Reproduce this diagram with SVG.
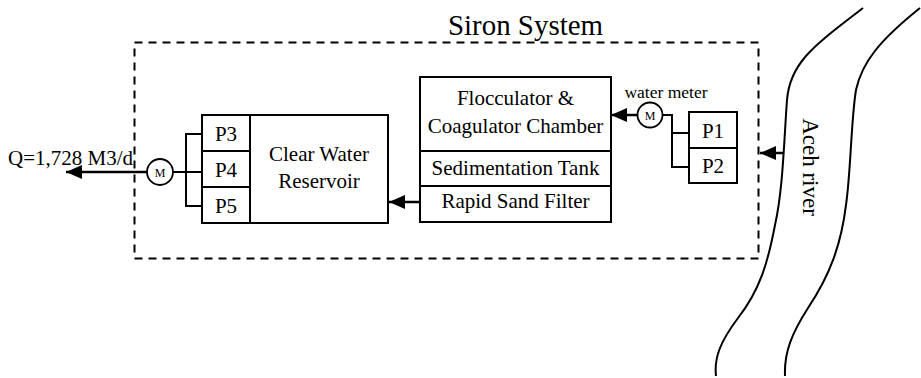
<svg xmlns="http://www.w3.org/2000/svg" width="921" height="378" viewBox="0 0 921 378">
<style>
  .box { fill: #fff; stroke: #000; stroke-width: 2; }
  .ln { fill: none; stroke: #000; stroke-width: 2; }
  .arr { fill: none; stroke: #000; stroke-width: 2.5; }
  .meter { fill: #fff; stroke: #000; stroke-width: 1.8; }
</style>
<defs>
  <marker id="ah" viewBox="0 0 16 14" refX="16" refY="7" markerWidth="16" markerHeight="14" markerUnits="userSpaceOnUse" orient="auto">
    <polygon points="0,0 16,7 0,14" fill="#000"/>
  </marker>
</defs>
<rect width="921" height="378" fill="#fff"/>

<g id="siron-system">
  <rect x="134.5" y="42.5" width="624" height="216" fill="none" stroke="#000" stroke-width="2" stroke-dasharray="8,6"/>
  <text x="525.5" y="35" font-family="Liberation Serif, serif" font-size="29" text-anchor="middle" textLength="155" lengthAdjust="spacingAndGlyphs">Siron System</text>
</g>

<g id="river">
  <path class="ln" d="M 863,8 C 815,45 790,62 787,100 C 784,140 783,190 775,225 C 768,262 760,290 738,318 C 720,342 714,358 716,376"/>
  <path class="ln" d="M 920,8 C 880,40 862,62 856,90 C 851,120 851,170 846,205 C 841,245 830,275 808,308 C 792,333 784,352 785,376"/>
  <text transform="translate(803,167) rotate(90)" x="0" y="0" font-family="Liberation Serif, serif" font-size="23" text-anchor="middle">Aceh river</text>
</g>

<g id="treatment">
  <rect class="box" x="420" y="77" width="191" height="145"/>
  <line class="ln" x1="420" y1="151" x2="611" y2="151"/>
  <line class="ln" x1="420" y1="186" x2="611" y2="186"/>
  <text x="515.5" y="105" font-family="Liberation Serif, serif" font-size="21" text-anchor="middle">Flocculator &amp;</text>
  <text x="515.5" y="133" font-family="Liberation Serif, serif" font-size="21" text-anchor="middle">Coagulator Chamber</text>
  <text x="515.5" y="175" font-family="Liberation Serif, serif" font-size="21" text-anchor="middle">Sedimentation Tank</text>
  <text x="515.5" y="208" font-family="Liberation Serif, serif" font-size="21" text-anchor="middle">Rapid Sand Filter</text>
</g>

<g id="reservoir">
  <rect class="box" x="250" y="115" width="138" height="108"/>
  <text x="319" y="161" font-family="Liberation Serif, serif" font-size="21" text-anchor="middle">Clear Water</text>
  <text x="319" y="188" font-family="Liberation Serif, serif" font-size="21" text-anchor="middle">Reservoir</text>
</g>

<g id="pumps-out">
  <rect class="box" x="202" y="115" width="48" height="36"/>
  <rect class="box" x="202" y="151" width="48" height="36"/>
  <rect class="box" x="202" y="187" width="48" height="36"/>
  <text x="226" y="141" font-family="Liberation Serif, serif" font-size="21" text-anchor="middle">P3</text>
  <text x="226" y="177" font-family="Liberation Serif, serif" font-size="21" text-anchor="middle">P4</text>
  <text x="226" y="213" font-family="Liberation Serif, serif" font-size="21" text-anchor="middle">P5</text>
</g>

<g id="pumps-in">
  <rect class="box" x="689" y="112" width="48" height="36"/>
  <rect class="box" x="689" y="148" width="48" height="35"/>
  <text x="713" y="138" font-family="Liberation Serif, serif" font-size="21" text-anchor="middle">P1</text>
  <text x="713" y="173" font-family="Liberation Serif, serif" font-size="21" text-anchor="middle">P2</text>
</g>

<g id="connectors">
  <line class="arr" x1="784" y1="153" x2="760" y2="153" marker-end="url(#ah)"/>
  <polyline class="ln" points="689,133 672,133"/>
  <polyline class="ln" points="689,167 672,167 672,115 662,115"/>
  <line class="arr" x1="638" y1="115" x2="611" y2="115" marker-end="url(#ah)"/>
  <line class="arr" x1="420" y1="202" x2="389" y2="202" marker-end="url(#ah)"/>
  <polyline class="ln" points="202,134 186,134 186,206 202,206"/>
  <line class="ln" x1="173" y1="172" x2="202" y2="172"/>
  <line class="arr" x1="147" y1="172" x2="66" y2="172" marker-end="url(#ah)"/>
  <text x="8" y="165" font-family="Liberation Serif, serif" font-size="21">Q=1,728 M3/d</text>
</g>

<g id="meter-in">
  <circle class="meter" cx="650" cy="115" r="12.5"/>
  <text x="650" y="119.5" font-family="Liberation Serif, serif" font-size="12" text-anchor="middle">M</text>
  <text x="666" y="98" font-family="Liberation Serif, serif" font-size="17.5" text-anchor="middle">water meter</text>
</g>

<g id="meter-out">
  <circle class="meter" cx="160" cy="172" r="13"/>
  <text x="160" y="176.5" font-family="Liberation Serif, serif" font-size="12" text-anchor="middle">M</text>
</g>
</svg>
